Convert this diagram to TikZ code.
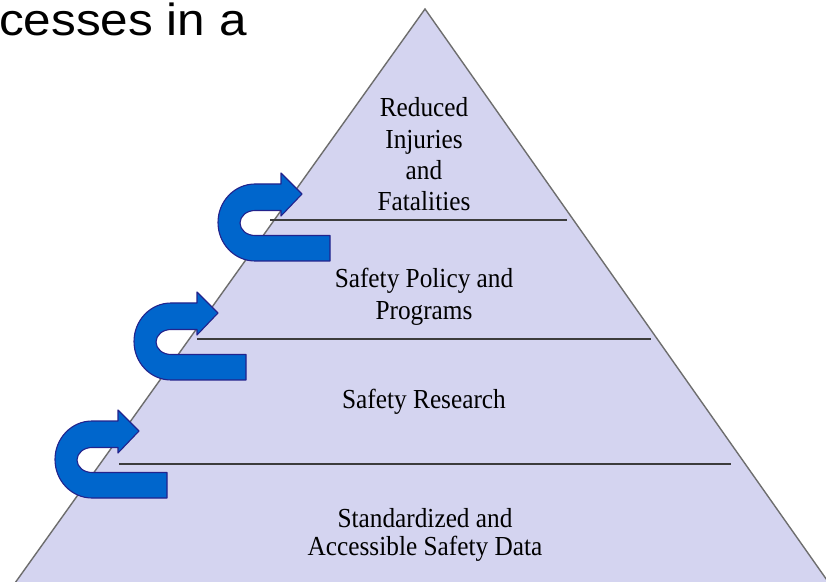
\documentclass[tikz,border=0pt]{standalone}
\usepackage{fontspec}
\setmainfont{Liberation Serif}
\newfontfamily\lvlfont[FakeStretch=0.92]{Liberation Serif}
\newfontfamily\titlefont{Liberation Sans}
\definecolor{pyrfill}{RGB}{212,212,240}
\definecolor{pyredge}{RGB}{110,110,110}
\definecolor{divline}{RGB}{60,60,60}
\definecolor{arrfill}{RGB}{0,102,204}
\definecolor{arredge}{RGB}{35,35,140}
\tikzset{
  pyramid/.style={fill=pyrfill, draw=pyredge, line width=1.4pt, line join=miter},
  divider/.style={draw=divline, line width=1.4pt},
  lvl/.style={inner sep=0pt, anchor=base, font=\lvlfont\fontsize{27.5}{32}\selectfont},
  uturn/.pic={
    \path[fill=arrfill, draw=arredge, line width=1.1pt, line join=round]
      (75,-38) -- (75,-12.5) -- (0,-12.5)
      arc[start angle=-90, end angle=-270, x radius=15pt, y radius=12.5pt]
      -- (26,12.5) -- (26,7) -- (47,29) -- (26,50) -- (26,39) -- (0,39)
      arc[start angle=90, end angle=270, x radius=37pt, y radius=38.5pt]
      -- cycle;
  }
}
\begin{document}
\begin{tikzpicture}[x=1pt,y=1pt]
\useasboundingbox (0,0) rectangle (826,581);
\begin{scope}
\clip (0,0) rectangle (826,581);
\draw[pyramid] (425,572) -- (829,-2) -- (15,-2) -- cycle;
\draw[divider] (270,361) -- (567,361);
\draw[divider] (197,242) -- (651,242);
\draw[divider] (119,117) -- (731,117);
\pic at (255,358) {uturn};
\pic at (171,239) {uturn};
\pic at (92,121) {uturn};
\node[inner sep=0pt, anchor=base west, xscale=1.1, font=\titlefont\fontsize{45}{50}\selectfont] (title) at (-1,545) {cesses in a};
\end{scope}
\node[lvl] (l1a) at (424,464) {Reduced};
\node[lvl] (l1b) at (424,432) {Injuries};
\node[lvl] (l1c) at (424,401) {and};
\node[lvl] (l1d) at (424,370) {Fatalities};
\node[lvl] (l2a) at (424,293) {Safety Policy and};
\node[lvl] (l2b) at (424,261) {Programs};
\node[lvl] (l3a) at (424,173) {Safety Research};
\node[lvl] (l4a) at (425,54) {Standardized and};
\node[lvl] (l4b) at (425,26) {Accessible Safety Data};
\end{tikzpicture}
\end{document}
